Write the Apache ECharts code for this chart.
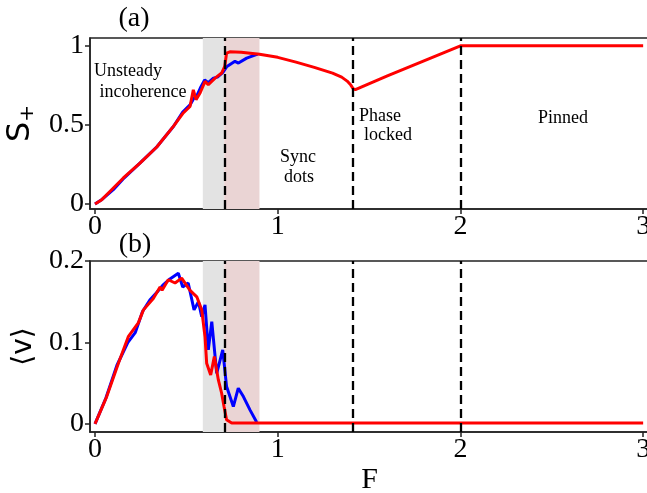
<!DOCTYPE html>
<html>
<head>
<meta charset="utf-8">
<script src="https://cdn.jsdelivr.net/npm/echarts@6/dist/echarts.min.js"></script>
<style>html,body{margin:0;padding:0;background:#fff;}#c{width:647px;height:493px;}</style>
</head>
<body>
<div id="c"></div>
<script>
// ---- data ----
var xTicks = [0, 1, 2, 3];
var yTicksTop = [0, 0.5, 1];
var yTicksBottom = [0, 0.1, 0.2];
var transitions = [0.707, 1.414, 2];
var grayRegion = [0.59, 0.707];
var pinkRegion = [0.707, 0.90];

var topRedF = [0, 0.037, 0.08, 0.155, 0.246, 0.338, 0.429, 0.483, 0.52, 0.538, 0.553, 0.575, 0.602, 0.62, 0.657, 0.693, 0.71, 0.72, 0.738, 0.8, 0.9, 1.0, 1.1, 1.2, 1.3, 1.35, 1.38, 1.40, 1.414, 1.425, 1.6, 1.8, 2.0, 2.5, 3.0];
var topRedS = [0, 0.027, 0.077, 0.164, 0.258, 0.359, 0.489, 0.574, 0.615, 0.72, 0.658, 0.70, 0.773, 0.752, 0.794, 0.826, 0.868, 0.952, 0.96, 0.957, 0.945, 0.925, 0.895, 0.862, 0.825, 0.80, 0.775, 0.75, 0.725, 0.722, 0.808, 0.903, 0.998, 0.998, 0.998];

var topBlueF = [0, 0.04, 0.1, 0.16, 0.25, 0.34, 0.43, 0.48, 0.52, 0.54, 0.56, 0.58, 0.60, 0.62, 0.648, 0.67, 0.70, 0.72, 0.766, 0.785, 0.83, 0.89];
var topBlueS = [0, 0.03, 0.09, 0.165, 0.262, 0.362, 0.49, 0.58, 0.625, 0.665, 0.69, 0.74, 0.782, 0.765, 0.794, 0.80, 0.83, 0.865, 0.90, 0.889, 0.92, 0.945];

var botRedF = [0, 0.064, 0.128, 0.182, 0.237, 0.265, 0.319, 0.356, 0.367, 0.401, 0.438, 0.474, 0.52, 0.557, 0.584, 0.602, 0.611, 0.633, 0.653, 0.675, 0.693, 0.706, 0.72, 0.748, 3.0];
var botRedV = [0, 0.0335, 0.0745, 0.107, 0.124, 0.14, 0.154, 0.168, 0.164, 0.177, 0.173, 0.179, 0.164, 0.156, 0.14, 0.107, 0.0745, 0.060, 0.0826, 0.054, 0.0376, 0.0213, 0.005, 0.001, 0.001];

var botBlueF = [0, 0.06, 0.12, 0.18, 0.22, 0.26, 0.30, 0.34, 0.37, 0.41, 0.456, 0.48, 0.51, 0.542, 0.566, 0.584, 0.602, 0.62, 0.639, 0.666, 0.699, 0.72, 0.757, 0.784, 0.812, 0.848, 0.885];
var botBlueV = [0, 0.032, 0.072, 0.100, 0.112, 0.138, 0.152, 0.162, 0.170, 0.178, 0.185, 0.168, 0.173, 0.14, 0.150, 0.1317, 0.146, 0.0908, 0.1255, 0.062, 0.0908, 0.0458, 0.0212, 0.0438, 0.0335, 0.0172, 0.002];

function zip(a, b) { return a.map(function (v, i) { return [v, b[i]]; }); }

var serif = '"Liberation Serif", "DejaVu Serif", serif';
var axisColor = '#222';

function xAxisCfg(gi, name) {
  return {
    type: 'value', gridIndex: gi, min: -0.0275, max: 3.032,
    name: name, nameLocation: 'middle', nameGap: 32,
    nameTextStyle: { fontFamily: serif, fontSize: 30, color: '#000' },
    axisLine: { show: true, onZero: false, lineStyle: { color: axisColor, width: 1.5 } },
    axisTick: { show: true, length: 5, lineStyle: { color: axisColor, width: 1.5 }, customValues: xTicks },
    axisLabel: { fontFamily: serif, fontSize: 28, color: '#000', margin: 4, customValues: xTicks },
    splitLine: { show: false }
  };
}
function yAxisCfg(gi, min, max, ticks, name, rich, gap) {
  return {
    type: 'value', gridIndex: gi, min: min, max: max,
    name: name, nameLocation: 'middle', nameRotate: 90, nameGap: gap,
    nameTextStyle: { rich: rich },
    axisLine: { show: true, onZero: false, lineStyle: { color: axisColor, width: 1.5 } },
    axisTick: { show: true, length: 5, lineStyle: { color: axisColor, width: 1.5 }, customValues: ticks },
    axisLabel: { fontFamily: serif, fontSize: 28, color: '#000', margin: 6, customValues: ticks,
      formatter: function (v) { return String(v); } },
    splitLine: { show: false }
  };
}

var dashLines = {
  silent: true, symbol: 'none',
  label: { show: false },
  lineStyle: { color: '#000', type: [9, 5], width: 2.3 },
  data: transitions.map(function (t) { return { xAxis: t }; })
};
var areas = {
  silent: true,
  data: [
    [{ xAxis: grayRegion[0], itemStyle: { color: '#e3e3e3' } }, { xAxis: grayRegion[1] }],
    [{ xAxis: pinkRegion[0], itemStyle: { color: '#ead4d4' } }, { xAxis: pinkRegion[1] }]
  ]
};

function txt(t, x, y, size) {
  return { type: 'text', x: x, y: y, style: { text: t, fontFamily: serif, fontSize: size, fill: '#000', align: 'center', verticalAlign: 'middle' }, z: 100 };
}

var gridBase = { left: 90, width: 559, height: 171, show: true, borderColor: axisColor, borderWidth: 1.5,
  backgroundColor: 'transparent', containLabel: false, outerBoundsMode: 'none' };

var chart = echarts.init(document.getElementById('c'), null, { renderer: 'canvas' });
chart.setOption({
  animation: false,
  backgroundColor: '#fff',
  grid: [
    Object.assign({}, gridBase, { top: 38 }),
    Object.assign({}, gridBase, { top: 261 })
  ],
  xAxis: [xAxisCfg(0, ''), xAxisCfg(1, 'F')],
  yAxis: [
    yAxisCfg(0, -0.032, 1.047, yTicksTop, '{s|S}{p|+}', {
      s: { fontFamily: '"DejaVu Sans"', fontSize: 32, color: '#000', lineHeight: 34 },
      p: { fontFamily: '"DejaVu Sans"', fontSize: 20, color: '#000', lineHeight: 14, verticalAlign: 'bottom' }
    }, 48),
    yAxisCfg(1, -0.01, 0.2, yTicksBottom, '{v|\u27E8v\u27E9}', {
      v: { fontFamily: '"DejaVu Sans"', fontSize: 28, color: '#000' }
    }, 50)
  ],
  series: [
    { type: 'line', xAxisIndex: 0, yAxisIndex: 0, data: [], z: 1, markArea: areas },
    { type: 'line', xAxisIndex: 1, yAxisIndex: 1, data: [], z: 1, markArea: areas },
    { type: 'line', xAxisIndex: 0, yAxisIndex: 0, data: zip(topBlueF, topBlueS), showSymbol: false, z: 3,
      lineStyle: { color: '#0000ff', width: 3 } },
    { type: 'line', xAxisIndex: 0, yAxisIndex: 0, data: zip(topRedF, topRedS), showSymbol: false, z: 4,
      lineStyle: { color: '#ff0000', width: 3 } },
    { type: 'line', xAxisIndex: 1, yAxisIndex: 1, data: zip(botBlueF, botBlueV), showSymbol: false, z: 3,
      lineStyle: { color: '#0000ff', width: 3 } },
    { type: 'line', xAxisIndex: 1, yAxisIndex: 1, data: zip(botRedF, botRedV), showSymbol: false, z: 4,
      lineStyle: { color: '#ff0000', width: 3 } },
    { type: 'line', xAxisIndex: 0, yAxisIndex: 0, data: [], z: 5, markLine: dashLines },
    { type: 'line', xAxisIndex: 1, yAxisIndex: 1, data: [], z: 5, markLine: dashLines }
  ],
  graphic: [
    txt('(a)', 134, 19, 28),
    txt('(b)', 135, 245, 28),
    txt('Unsteady', 128, 71, 18),
    txt('incoherence', 143, 92, 18),
    txt('Sync', 298, 157, 18),
    txt('dots', 299, 177, 18),
    txt('Phase', 380, 116, 18),
    txt('locked', 388, 135, 18),
    txt('Pinned', 563, 118, 18)
  ]
});
</script>
</body>
</html>
